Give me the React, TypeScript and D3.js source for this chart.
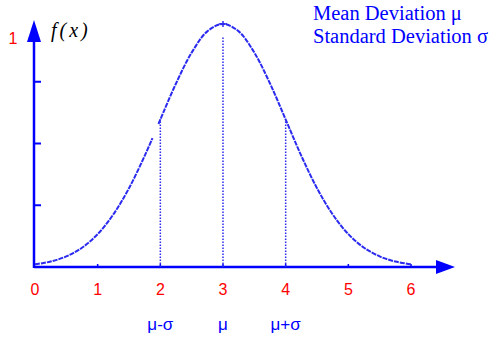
import React from "react";
import * as d3 from "d3";

const xTicks = [0, 1, 2, 3, 4, 5, 6];
const xTickLabels = ["0", "1", "2", "3", "4", "5", "6"];
const yTicks = [0.25, 0.5, 0.75];
const markers = [
  { x: 2, label: "μ-σ" },
  { x: 3, label: "μ" },
  { x: 4, label: "μ+σ" },
];
// curve (x, f(x)); null marks the small break in the drawing
const curveX = [0, 0.25, 0.5, 0.75, 1, 1.25, 1.5, 1.75, 1.875, 1.92, 1.97, 2, 2.25, 2.5, 2.75, 3, 3.25, 3.5, 3.75, 4, 4.25, 4.5, 4.75, 5, 5.25, 5.5, 5.75, 6];
const curveY: (number | null)[] = [0.011, 0.022, 0.043, 0.078, 0.133, 0.213, 0.319, 0.45, 0.522, null, 0.579, 0.597, 0.743, 0.868, 0.954, 0.984, 0.954, 0.868, 0.743, 0.597, 0.45, 0.319, 0.213, 0.133, 0.078, 0.043, 0.022, 0.011];
const legendLines = ["Mean Deviation μ", "Standard Deviation σ"];

export default function App() {
  const W = 492, H = 343;
  const x = d3.scaleLinear().domain([0, 6]).range([35, 411]);
  const y = d3.scaleLinear().domain([0, 1]).range([267, 20]);
  const blue = "#0000ff";
  const curveColor = "#2b2bf0";

  const pts = curveX.map((cx, i) => ({ x: cx, y: curveY[i] }));
  const line = d3
    .line<{ x: number; y: number | null }>()
    .defined((d) => d.y !== null)
    .x((d) => x(d.x))
    .y((d) => y(d.y as number))
    .curve(d3.curveCatmullRom);

  const x0 = x(0);
  const y0 = y(0);
  const peakIdx = curveY.indexOf(0.984);

  return (
    <svg
      width={W}
      height={H}
      style={{ position: "absolute", left: 0, top: 0, background: "#fff" }}
    >
      {/* x axis */}
      <line x1={x0 - 1} y1={y0} x2={440} y2={y0} stroke={blue} strokeWidth={2.5} />
      <path d={`M436,${y0 - 7} L455,${y0} L436,${y0 + 7} Z`} fill={blue} />
      {/* y axis */}
      <line x1={x0 - 1} y1={y0 + 1} x2={x0 - 1} y2={38} stroke={blue} strokeWidth={2.5} />
      <path d={`M${x0 - 8},42 L${x0 - 1},20 L${x0 + 6},42 Z`} fill={blue} />
      {yTicks.map((t) => (
        <line key={t} x1={x0 - 1} x2={x0 + 6} y1={y(t)} y2={y(t)} stroke={blue} strokeWidth={2} />
      ))}
      {xTicks.slice(1).map((t) => (
        <line key={t} x1={x(t)} x2={x(t)} y1={y0} y2={y0 - 3} stroke={blue} strokeWidth={1.5} />
      ))}
      {/* dotted drop lines */}
      {markers.map((m) => {
        const idx = curveX.indexOf(m.x);
        const top = m.x === 3 ? y(0.93) : y(curveY[idx] as number);
        return (
          <line
            key={m.label}
            x1={x(m.x)}
            x2={x(m.x)}
            y1={y0}
            y2={top}
            stroke={curveColor}
            strokeWidth={1.5}
            strokeDasharray="1.5 1.5"
          />
        );
      })}
      {/* curve */}
      <path d={line(pts) || ""} fill="none" stroke={curveColor} strokeWidth={2} strokeDasharray="5 1" />
      {/* peak cross */}
      <line
        x1={x(curveX[peakIdx]) - 4}
        x2={x(curveX[peakIdx]) + 4}
        y1={y(0.984)}
        y2={y(0.984)}
        stroke={curveColor}
        strokeWidth={1.5}
      />
      <line
        x1={x(curveX[peakIdx])}
        x2={x(curveX[peakIdx])}
        y1={y(0.984) - 3}
        y2={y(0.984) + 3}
        stroke={curveColor}
        strokeWidth={1.5}
      />
      {/* x tick labels */}
      {xTicks.map((t, i) => (
        <text
          key={t}
          x={x(t)}
          y={y0 + 28}
          fill="#ff0000"
          fontFamily="Liberation Sans, Arial, sans-serif"
          fontSize={16}
          textAnchor="middle"
        >
          {xTickLabels[i]}
        </text>
      ))}
      {/* y label 1 */}
      <text x={13} y={44} fill="#ff0000" fontFamily="Liberation Sans, Arial, sans-serif" fontSize={16} textAnchor="middle">
        1
      </text>
      {/* f(x) */}
      <text
        x={51}
        y={37}
        fill="#000"
        fontFamily="Liberation Serif, Times New Roman, serif"
        fontStyle="italic"
        fontSize={20}
        letterSpacing={3}
      >
        f(x)
      </text>
      {/* greek markers */}
      {markers.map((m) => (
        <text
          key={m.label}
          x={x(m.x)}
          y={330}
          fill={blue}
          fontFamily="Liberation Sans, Arial, sans-serif"
          fontSize={17}
          textAnchor="middle"
        >
          {m.label}
        </text>
      ))}
      {/* legend */}
      {legendLines.map((l, i) => (
        <text
          key={l}
          x={313}
          y={20 + i * 23}
          fill={blue}
          fontFamily="Liberation Serif, Times New Roman, serif"
          fontSize={20.5}
        >
          {l}
        </text>
      ))}
    </svg>
  );
}
